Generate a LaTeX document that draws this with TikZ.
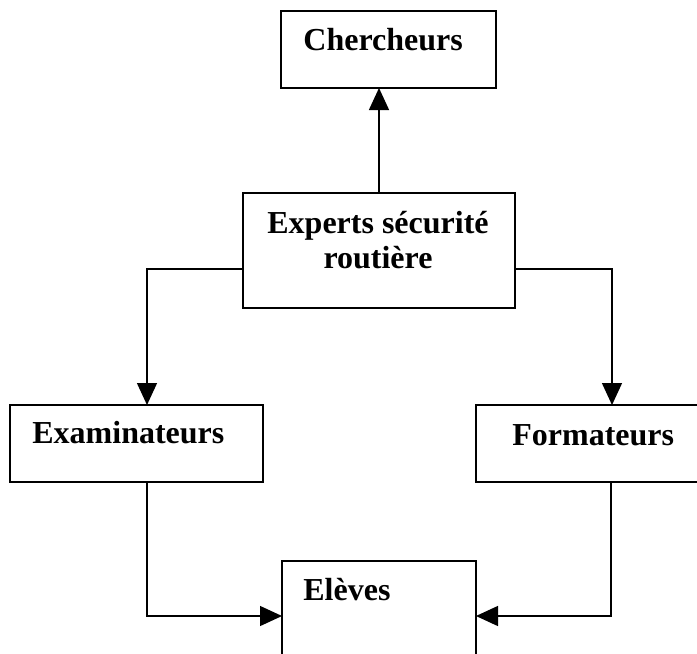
\documentclass[tikz,border=0pt]{standalone}
\usepackage{fontspec}
\setmainfont{Liberation Serif}
\usepackage{tikz}
\usetikzlibrary{calc,arrows.meta}
\tikzstyle{box}=[draw, line width=0.8pt, inner sep=0pt, outer sep=0pt]
\tikzstyle{txt}=[inner sep=0pt, font=\bfseries\fontsize{16}{17.5}\selectfont]
\tikzstyle{arr}=[line width=0.7pt, -{Triangle[length=11pt,width=10pt]}]

\begin{document}
\begin{tikzpicture}[x=0.5pt,y=-0.5pt]
\useasboundingbox (0,0) rectangle (697,654);
\clip (0,0) rectangle (697,654);
% boxes
\node[box, minimum width=107.5pt, minimum height=38.5pt] (cher) at (388.5,49.5) {};
\node[box, minimum width=136pt, minimum height=57.5pt] (expert) at (379,250.5) {};
\node[box, minimum width=126.5pt, minimum height=38.5pt] (exam) at (136.5,443.5) {};
\node[box, minimum width=122pt, minimum height=38.5pt] (form) at (598,443.5) {};
\node[box, minimum width=97pt, minimum height=69.5pt] (eleve) at (379,630.5) {};
% texts
\node[txt, anchor=base west] (chert) at (303,50) {Chercheurs};
\node[txt, align=center] (expertt) at (378,240) {Experts sécurité\\routière};
\node[txt, anchor=base west] (examt) at (32,443) {Examinateurs};
\node[txt, anchor=base west] (formt) at (512,445) {Formateurs};
\node[txt, anchor=base west] (elevet) at (303,600) {Elèves};
% links
\draw[arr] (expert.north) -- (expert.north |- cher.south);
\draw[arr] ($(expert.west)+(0,18.5)$) -| ($(exam.north)+(10.5,0)$);
\draw[arr] ($(expert.east)+(0,18.5)$) -| ($(form.north)+(14,0)$);
\draw[arr] ($(exam.south)+(10.5,0)$) |- ($(eleve.west)+(0,-14.5)$);
\draw[arr] ($(form.south)+(13,0)$) |- ($(eleve.east)+(0,-14.5)$);
\end{tikzpicture}
\end{document}
